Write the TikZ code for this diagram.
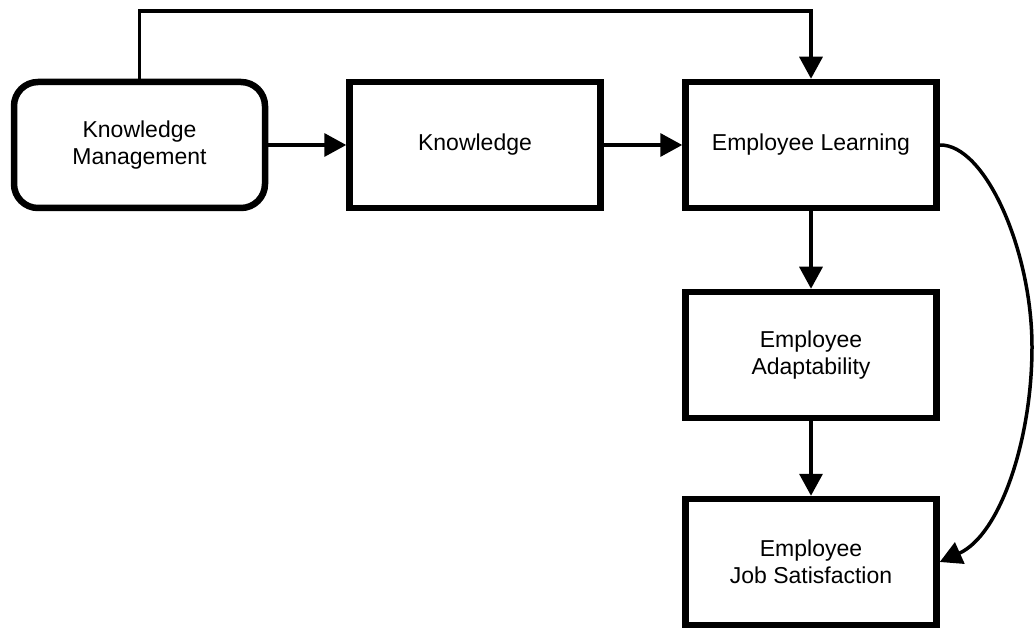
\documentclass[tikz,border=0pt]{standalone}
\usepackage{fontspec}
\setmainfont{Liberation Sans}
\usetikzlibrary{arrows.meta}
\begin{document}
\begin{tikzpicture}[x=1pt,y=-1pt,
  box/.style={draw=black, line width=6.5pt, minimum width=251pt, minimum height=126pt,
    inner sep=0pt, align=center, font=\fontsize{23}{27}\selectfont, fill=white},
  rbox/.style={box, rounded corners=24pt},
  conn/.style={line width=3.5pt, -{Triangle[length=22pt,width=23pt]}},
  plain/.style={line width=3.5pt}]
\useasboundingbox (0,0) rectangle (1034,628);
\node[rbox] (km) at (139.5,145) {Knowledge\\Management};
\node[box] (kn) at (475,145) {Knowledge};
\node[box] (el) at (811,145) {Employee Learning};
\node[box] (ea) at (811,355) {Employee\\Adaptability};
\node[box] (js) at (811,562) {Employee\\Job Satisfaction};
\coordinate (topc) at (475,11);
\draw[conn] (km) -- (kn);
\draw[conn] (kn) -- (el);
\draw[conn] (el) -- (ea);
\draw[conn] (ea) -- (js);
\draw[conn, line join=miter] (km.north) |- (topc) -| (el.north);
\draw[conn] (el.east) .. controls (985,144) and (1032,250) .. (1032,347)
  .. controls (1032,440) and (1000,535) .. (js.east);
\end{tikzpicture}
\end{document}
